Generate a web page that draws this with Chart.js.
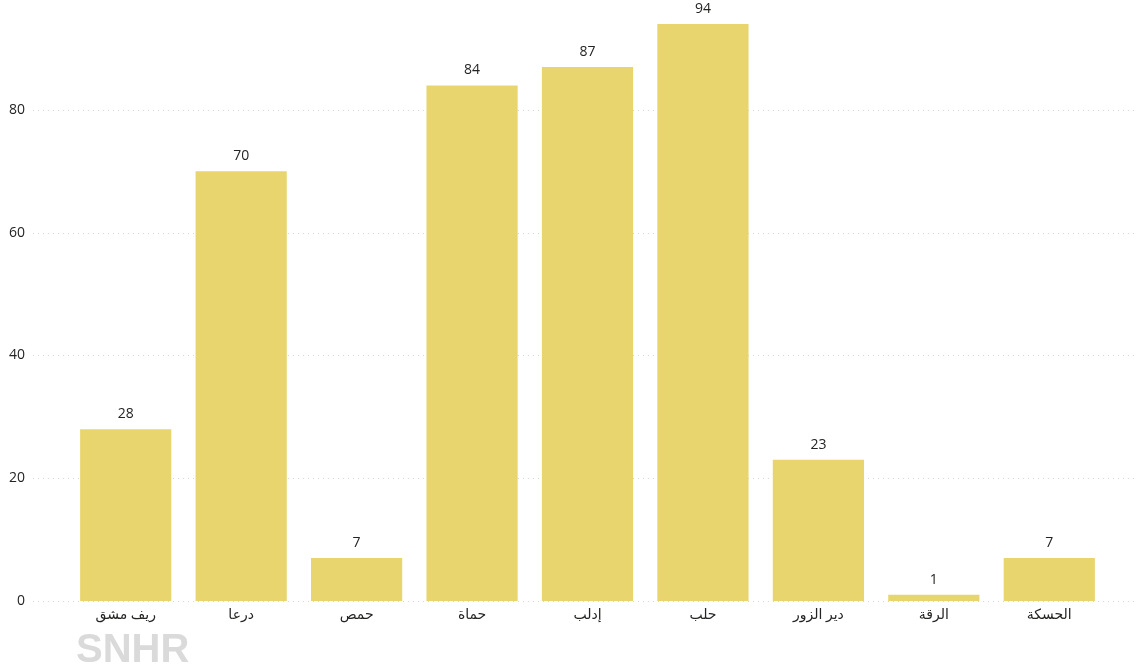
<!DOCTYPE html>
<html>
<head>
<meta charset="utf-8">
<script src="https://cdn.jsdelivr.net/npm/chart.js@4"></script>
<style>
  body { margin: 0; background: #fff; }
</style>
</head>
<body>
<canvas id="chart" width="1138" height="671"></canvas>
<script>
// governorates and counts
const categories = ["ريف مشق", "درعا", "حمص", "حماة", "إدلب", "حلب", "دير الزور", "الرقة", "الحسكة"];
const values = [28, 70, 7, 84, 87, 94, 23, 1, 7];
const yTicks = [0, 20, 40, 60, 80];

// dotted gridlines spanning the full width + y labels, like the original
const gridPlugin = {
    id: "fullGrid",
    beforeDatasetsDraw(chart) {
        const ctx = chart.ctx;
        const y = chart.scales.y;
        ctx.save();
        ctx.strokeStyle = "#d6d6d6";
        ctx.lineWidth = 1;
        ctx.setLineDash([1, 4]);
        ctx.font = "14px 'Open Sans', sans-serif";
        ctx.fillStyle = "#252423";
        ctx.textAlign = "right";
        ctx.textBaseline = "middle";
        yTicks.forEach((t) => {
            const py = Math.round(y.getPixelForValue(t)) + 0.5;
            ctx.beginPath();
            ctx.moveTo(33, py);
            ctx.lineTo(chart.width, py);
            ctx.stroke();
            ctx.fillText(t, 25, py);
        });
        ctx.restore();
    },
};

// value labels above each bar + watermark
const labelPlugin = {
    id: "barLabels",
    afterDatasetsDraw(chart) {
        const ctx = chart.ctx;
        const meta = chart.getDatasetMeta(0);
        ctx.save();
        ctx.font = "14px 'Open Sans', sans-serif";
        ctx.fillStyle = "#252423";
        ctx.textAlign = "center";
        ctx.textBaseline = "middle";
        meta.data.forEach((bar, i) => {
            ctx.fillText(values[i], bar.x, bar.y - 15);
        });
        ctx.font = "bold 40px 'Liberation Sans', sans-serif";
        ctx.fillStyle = "#dadada";
        ctx.textAlign = "left";
        ctx.textBaseline = "alphabetic";
        ctx.fillText("SNHR", 76, 662);
        ctx.restore();
    },
};

new Chart(document.getElementById("chart").getContext("2d"), {
    type: "bar",
    data: {
        labels: categories,
        datasets: [
            {
                data: values,
                backgroundColor: "#e8d56e",
                categoryPercentage: 1,
                barPercentage: 0.79,
            },
        ],
    },
    options: {
        responsive: false,
        animation: false,
        layout: { autoPadding: false, padding: { top: 1, right: 31, bottom: 41.2, left: 0 } },
        plugins: {
            legend: { display: false },
            tooltip: { enabled: false },
        },
        scales: {
            x: {
                grid: { display: false, drawTicks: false },
                border: { display: false },
                ticks: {
                    color: "#252423",
                    padding: 6,
                    maxRotation: 0,
                    font: { family: "'Open Sans', 'DejaVu Sans', sans-serif", size: 14 },
                },
            },
            y: {
                min: 0,
                max: 97.75,
                grid: { display: false, drawTicks: false },
                border: { display: false },
                // labels are drawn by the grid plugin
                ticks: { display: false, stepSize: 20, includeBounds: false, padding: 0 },
                afterFit: (scale) => { scale.width = 68; },
            },
        },
    },
    plugins: [gridPlugin, labelPlugin],
});
</script>
</body>
</html>
